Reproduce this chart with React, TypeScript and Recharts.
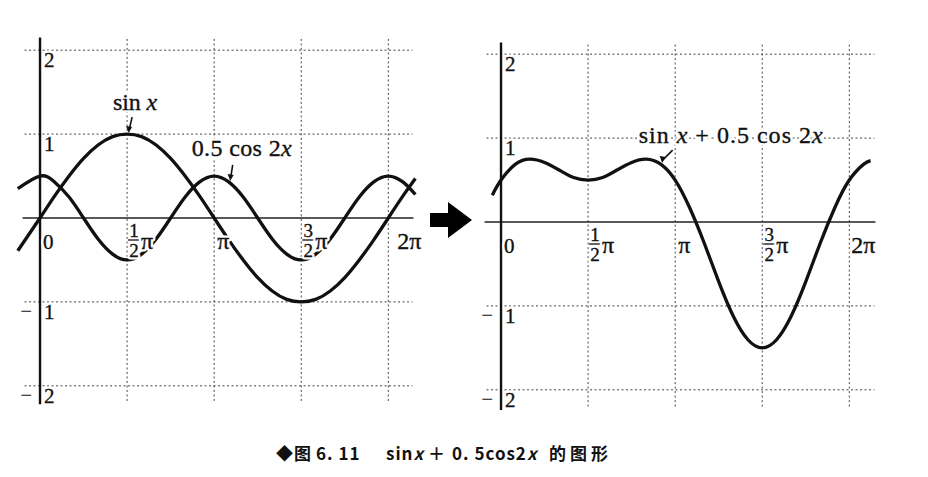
import React from 'react';
import { LineChart, Line, XAxis, YAxis, ReferenceLine, ReferenceDot } from 'recharts';

// points, x in degrees
const leftX = [-23, 0, 15, 30, 45, 60, 75, 90, 105, 120, 135, 150, 165, 180, 195, 210, 225, 240, 255, 270, 285, 300, 315, 330, 345, 360, 375, 388];
const sinValues = [-0.39, 0, 0.26, 0.5, 0.71, 0.87, 0.97, 1, 0.97, 0.87, 0.71, 0.5, 0.26, 0, -0.26, -0.5, -0.71, -0.87, -0.97, -1, -0.97, -0.87, -0.71, -0.5, -0.26, 0, 0.26, 0.47];
const halfCosValues = [0.35, 0.5, 0.43, 0.25, 0, -0.25, -0.43, -0.5, -0.43, -0.25, 0, 0.25, 0.43, 0.5, 0.43, 0.25, 0, -0.25, -0.43, -0.5, -0.43, -0.25, 0, 0.25, 0.43, 0.5, 0.43, 0.28];

const rightX = [-9, 0, 15, 30, 45, 60, 75, 90, 105, 120, 135, 150, 165, 180, 195, 210, 225, 240, 255, 270, 285, 300, 315, 330, 345, 360, 375, 382];
const sumValues = [0.32, 0.5, 0.69, 0.75, 0.71, 0.62, 0.53, 0.5, 0.53, 0.62, 0.71, 0.75, 0.69, 0.5, 0.17, -0.25, -0.71, -1.12, -1.4, -1.5, -1.4, -1.12, -0.71, -0.25, 0.17, 0.5, 0.69, 0.73];

const xTicks = [0, 90, 180, 270, 360];
const xTickLabels = ['0', '1/2π', 'π', '3/2π', '2π'];
const yTicks = [2, 1, -1, -2];
const yTickLabels = ['2', '1', '−1', '−2'];

const leftData = leftX.map((x, i) => ({ x, sin: sinValues[i], cos: halfCosValues[i] }));
const rightData = rightX.map((x, i) => ({ x, sum: sumValues[i] }));

const serif = '"Liberation Serif", "Times New Roman", serif';
const ink = '#111';
const gridStyle = { stroke: '#444', strokeWidth: 1, strokeDasharray: '2 2.5' };

// text drawn twice: a white halo that knocks out lines behind it, then the ink
const HaloText = ({ children, ...rest }: any) => (
  <>
    <text {...rest} stroke="#fff" strokeWidth={5} strokeLinejoin="round" fill="#fff">{children}</text>
    <text {...rest} stroke={ink} strokeWidth={0.35} fill={ink}>{children}</text>
  </>
);

const XLabel = ({ cx, cy, label, last }: any) => {
  const frac = label.match(/^(\d)\/(\d)(.*)$/);
  if (frac) {
    const fx = cx + 7;
    return (
      <g fontFamily={serif}>
        <HaloText x={fx} y={cy + 19} fontSize={19} textAnchor="middle">{frac[1]}</HaloText>
        <line x1={fx - 6} x2={fx + 6} y1={cy + 22} y2={cy + 22} stroke="#fff" strokeWidth={4} />
        <line x1={fx - 6} x2={fx + 6} y1={cy + 22} y2={cy + 22} stroke={ink} strokeWidth={1.3} />
        <HaloText x={fx} y={cy + 39} fontSize={19} textAnchor="middle">{frac[2]}</HaloText>
        <HaloText x={cx + 14} y={cy + 31} fontSize={24}>{frac[3]}</HaloText>
      </g>
    );
  }
  return (
    <g fontFamily={serif}>
      <HaloText x={cx + (last ? last : 3)} y={cy + 31} fontSize={label === '0' ? 21 : 24}>{label}</HaloText>
    </g>
  );
};

const YLabel = ({ cx, cy, label }: any) => {
  const neg = label.startsWith('−');
  return (
    <g fontFamily={serif} fontSize={21}>
      {neg && <text x={cx - 8} y={cy + 16} textAnchor="end" fill={ink}>−</text>}
      <HaloText x={cx + 4} y={cy + 17}>{neg ? label.slice(1) : label}</HaloText>
    </g>
  );
};

const Note = ({ cx, cy, dx, dy, ax, ay, text, width }: any) => (
  <g fontFamily={serif} fontSize={24}>
    <HaloText x={cx + dx} y={cy + dy} textAnchor="middle" textLength={width} lengthAdjust="spacing">
      {text.map((t: string, i: number) =>
        t === 'x' ? <tspan key={i} fontStyle="italic">x</tspan> : <tspan key={i}>{t}</tspan>
      )}
    </HaloText>
    <line x1={cx + ax} y1={cy + ay} x2={cx + 2} y2={cy - 4} stroke={ink} strokeWidth={1.6} />
    <path d={`M${cx - 1} ${cy - 8} L${cx + 5} ${cy - 7} L${cx + 1.5} ${cy - 1} Z`} fill={ink} />
  </g>
);

const Panel = ({ data, keys, notes, twoPiDx, yTop, yBottom, xLeft, xRight }: any) => (
  <LineChart width={416} height={386} data={data} margin={{ top: 0, right: 0, bottom: 0, left: 0 }}>
    <XAxis dataKey="x" type="number" domain={[-30, 400]} allowDataOverflow hide />
    <YAxis type="number" domain={[-2.3, 2.3]} allowDataOverflow hide />
    {yTicks.map((v) => (
      <ReferenceLine key={'h' + v} segment={[{ x: xLeft, y: v }, { x: xRight, y: v }]} {...gridStyle} />
    ))}
    {xTicks.slice(1).map((v) => (
      <ReferenceLine key={'v' + v} segment={[{ x: v, y: yBottom }, { x: v, y: yTop }]} {...gridStyle} />
    ))}
    <ReferenceLine segment={[{ x: xLeft - 2, y: 0 }, { x: xRight + 1, y: 0 }]} stroke="#222" strokeWidth={1.6} />
    <ReferenceLine segment={[{ x: 0, y: yBottom - 0.04 }, { x: 0, y: yTop }]} stroke={ink} strokeWidth={2.4} />
    {keys.map((k: string) => (
      <Line key={k} dataKey={k} type="natural" stroke={ink} strokeWidth={3.3} dot={false} isAnimationActive={false} />
    ))}
    {xTicks.map((v, i) => (
      <ReferenceDot key={'xl' + v} x={v} y={0} r={0}
        shape={(p: any) => <XLabel cx={p.cx} cy={p.cy} label={xTickLabels[i]} last={v === 360 ? twoPiDx : 0} />} />
    ))}
    {yTicks.map((v, i) => (
      <ReferenceDot key={'yl' + v} x={0} y={v} r={0}
        shape={(p: any) => <YLabel cx={p.cx} cy={p.cy} label={yTickLabels[i]} />} />
    ))}
    {notes.map((n: any) => (
      <ReferenceDot key={n.id} x={n.x} y={n.y} r={0}
        shape={(p: any) => <Note cx={p.cx} cy={p.cy} {...n} />} />
    ))}
  </LineChart>
);

const leftNotes = [
  { id: 'sin', x: 90, y: 1, dx: 8, dy: -24, ax: 5, ay: -17, text: ['sin ', 'x'], width: 44 },
  { id: 'cos', x: 195, y: 0.43, dx: 13, dy: -26, ax: 4, ay: -17, text: ['0.5 cos 2', 'x'], width: 100 },
];
const rightNotes = [
  { id: 'sum', x: 165, y: 0.69, dx: 70, dy: -21, ax: 12, ay: -14, text: ['sin ', 'x', ' + 0.5 cos 2', 'x'], width: 184 },
];

const capFont = '"Noto Sans CJK SC", sans-serif';

export default function App() {
  return (
    <div style={{ position: 'absolute', left: 0, top: 0, width: 928, height: 477, background: '#fff', overflow: 'hidden' }}>
      <div style={{ position: 'absolute', left: 11, top: 25 }}>
        <Panel data={leftData} keys={['sin', 'cos']} notes={leftNotes} twoPiDx={9}
          yTop={2.15} yBottom={-2.18} xLeft={-16} xRight={385} />
      </div>
      <div style={{ position: 'absolute', left: 472, top: 29 }}>
        <Panel data={rightData} keys={['sum']} notes={rightNotes} twoPiDx={2}
          yTop={2.14} yBottom={-2.2} xLeft={-15} xRight={386} />
      </div>
      <svg width={928} height={477} style={{ position: 'absolute', left: 0, top: 0, pointerEvents: 'none' }}>
        <path d="M430 213 L448 213 L448 202 L472 220 L448 238 L448 227 L430 227 Z" fill="#000" />
        <text y={460} fontFamily={capFont} fontSize={17} fontWeight={600} fill="#111" letterSpacing={1}
          style={{ whiteSpace: 'pre' }}>
          <tspan x={276}>◆图</tspan>
          <tspan x={316}>6. 11</tspan>
          <tspan x={386}>sin</tspan><tspan fontStyle="italic">x</tspan>
          <tspan x={428}>＋</tspan>
          <tspan x={452}>0. 5cos2</tspan><tspan fontStyle="italic">x</tspan>
          <tspan x={549} letterSpacing={4}>的图形</tspan>
        </text>
      </svg>
    </div>
  );
}
